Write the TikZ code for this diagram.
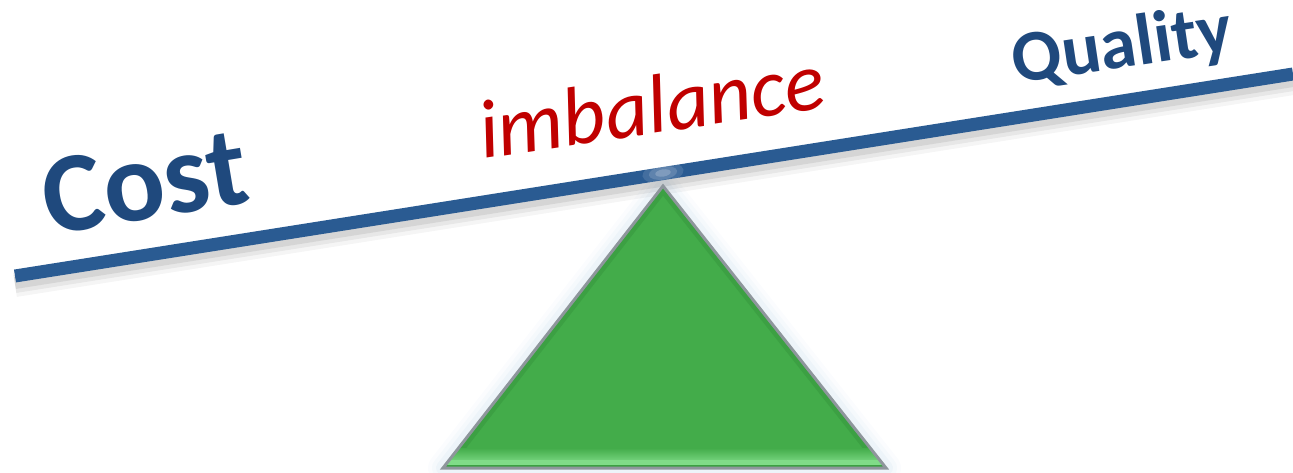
\documentclass[tikz,border=0pt]{standalone}
\usepackage{fontspec}
\setmainfont{Carlito}
\definecolor{beam}{HTML}{2A5B92}
\definecolor{lbl}{HTML}{1F497D}
\definecolor{imbred}{HTML}{C00000}
\definecolor{tri}{HTML}{43AC4A}
\definecolor{tridark}{HTML}{2F8A36}
\definecolor{trilight}{HTML}{80DC88}
\definecolor{triedge}{HTML}{8E969C}
\definecolor{glow}{HTML}{A9C8E2}
\begin{document}
\begin{tikzpicture}[x=1pt,y=1pt,
  bigword/.style={text=lbl,font=\bfseries\fontsize{114}{124}\selectfont,inner sep=0pt},
  qualword/.style={text=lbl,font=\bfseries\fontsize{73}{80}\selectfont,inner sep=0pt},
  imbword/.style={text=imbred,font=\itshape\fontsize{83}{92}\selectfont,inner sep=0pt}]
\useasboundingbox (0,0) rectangle (1293,472);
\coordinate (L) at (15,196);
\coordinate (R) at (1293,398);
\coordinate (A) at (663,286);
\coordinate (BL) at (443,4);
\coordinate (BR) at (886,4);
% glow round the triangle
\foreach \w/\o in {30/0.05,22/0.07,14/0.10} {
  \draw[glow, line width=\w, opacity=\o, line join=round] (A)--(BL)--(BR)--cycle;
}
% shadow below the beam
\foreach \d/\w/\o in {9/24/0.04,8/18/0.06,7/12/0.08} {
  \draw[black, line width=\w, opacity=\o] ([yshift=-\d]L)--([yshift=-\d]R);
}
% beam
\draw[beam, line width=13] (L)--(R);
% soft highlight at the pivot
\begin{scope}
  \clip (L) ++(0,-6.5) -- ([yshift=-6.5]R) -- ([yshift=6.5]R) -- ([yshift=6.5]L) -- cycle;
  \foreach \r/\o in {16/0.12,11/0.15,6/0.2} {
    \fill[white, opacity=\o, rotate around={9:(663,299)}] (663,299) ellipse (\r*1.3 and \r*0.6);
  }
\end{scope}
% triangle
\fill[tri] (A)--(BL)--(BR)--cycle;
\begin{scope}
  \clip (A)--(BL)--(BR)--cycle;
  \draw[tridark, line width=12, opacity=0.35] (A)--(BL)--(BR)--cycle;
  \shade[top color=tri, bottom color=trilight] (0,8) rectangle (1293,24);
  \fill[trilight] (0,8) rectangle (1293,12);
\end{scope}
\draw[triedge, line width=3, line join=miter] (A)--(BL)--(BR)--cycle;
% words
\node[bigword, rotate=9.5] (cost) at (145,290) {Cost};
\node[imbword, rotate=8.5] (imb) at (651,367) {imbalance};
\node[qualword, rotate=8.5] (qual) at (1122,424) {Quality};
\end{tikzpicture}
\end{document}
